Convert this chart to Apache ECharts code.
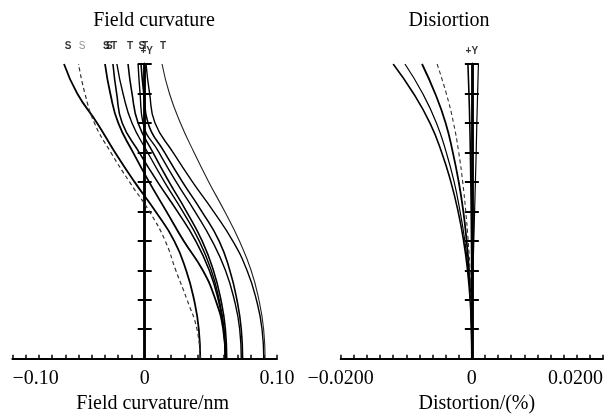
<!DOCTYPE html>
<html>
<head>
<meta charset="utf-8">
<script src="https://cdn.jsdelivr.net/npm/echarts@6/dist/echarts.min.js"></script>
<style>
html, body { margin: 0; padding: 0; background: #fff; }
#chart { width: 608px; height: 419px; }
</style>
</head>
<body>
<div id="chart"></div>
<script>
// relative field height (0 = axis, 1 = full field +Y)
const fields = [0, 0.1, 0.2, 0.3, 0.4, 0.5, 0.6, 0.7, 0.8, 0.9, 1.0]

// field curvature curves, value at each field
const fcA = [0.042, 0.0409, 0.0373, 0.0313, 0.0223, 0.0081, -0.0077, -0.0224, -0.036, -0.051, -0.061]
const fcB = [0.042, 0.0395, 0.032, 0.0235, 0.0155, 0.0035, -0.0115, -0.0256, -0.038, -0.0452, -0.050]
const fcC = [0.061, 0.0593, 0.0535, 0.0439, 0.0294, 0.0164, 0.0033, -0.0088, -0.020, -0.026, -0.030]
const fcD = [0.061, 0.0598, 0.0556, 0.0488, 0.0385, 0.0247, 0.0097, -0.0042, -0.017, -0.0212, -0.024]
const fcE = [0.061, 0.0599, 0.0563, 0.0503, 0.0412, 0.0287, 0.0149, 0.0022, -0.0096, -0.0164, -0.021]
const fcF = [0.062, 0.061, 0.0576, 0.0519, 0.0434, 0.0315, 0.0184, 0.0062, -0.005, -0.0096, -0.0126]
const fcG = [0.073, 0.0718, 0.0677, 0.061, 0.0509, 0.0379, 0.0238, 0.0108, -0.0013, -0.0035, -0.005]
const fcH = [0.074, 0.073, 0.0697, 0.0643, 0.0562, 0.0431, 0.0285, 0.015, 0.0025, -0.0007, -0.0028]
const fcJ = [0.090, 0.0887, 0.0844, 0.0773, 0.0665, 0.052, 0.0361, 0.0214, 0.0078, 0.0037, 0.001]
const fcI = [0.091, 0.0899, 0.0863, 0.0804, 0.0715, 0.0604, 0.0484, 0.0373, 0.027, 0.0187, 0.0131]

// distortion curves (%)
const dsR1 = [0, -0.00006, -0.00026, -0.00066, -0.00126, -0.0021, -0.0032, -0.0046, -0.0064, -0.0089, -0.012]
const dsR2 = [0, -0.00005, -0.00022, -0.00056, -0.00107, -0.0018, -0.0027, -0.0039, -0.0054, -0.0075, -0.0102]
const dsR3 = [0, -0.00004, -0.00017, -0.00042, -0.0008, -0.0013, -0.002, -0.0029, -0.004, -0.0056, -0.0076]
const dsR4 = [0, -0.00003, -0.00012, -0.00029, -0.00056, -0.00093, -0.0014, -0.002, -0.0028, -0.0039, -0.0053]
const dsR5 = [0, 0, -0.00001, -0.00003, -0.00006, -0.0001, -0.00016, -0.00023, -0.00032, -0.00044, -0.0006]
const dsR6 = [0, 0.00002, 0.00008, 0.00018, 0.0003, 0.00042, 0.00054, 0.00066, 0.00076, 0.00088, 0.001]

// S / T tags above the curve tops
const tagText = ['S', 'S', 'S', 'S', 'T', 'T', 'S', 'T', 'T']
const tagX = [-0.058, -0.0474, -0.029, -0.0267, -0.0232, -0.0111, -0.0022, 0.0003, 0.0138]
const tagLight = [false, true, false, false, false, false, false, false, false]

const serif = 'Liberation Serif'

function curve(xs, yIdx, xIdx, width, dashed, color) {
  return {
    type: 'line',
    xAxisIndex: xIdx,
    yAxisIndex: yIdx,
    data: fields.map((f, i) => [xs[i], f]),
    smooth: true,
    showSymbol: false,
    silent: true,
    lineStyle: { color: color || '#000', width: width, type: dashed ? [4, 3] : 'solid' },
  }
}

// vertical axis through x = 0, ticks crossing it on both sides (one axis per side)
function yAxisFor(grid, pos) {
  return {
    type: 'value', gridIndex: grid, position: pos, min: 0, max: 1, interval: 0.1,
    axisLine: { show: true, onZero: true, lineStyle: { color: '#000', width: 2.5 } },
    axisTick: { show: true, length: 7, lineStyle: { color: '#000', width: 2 } },
    axisLabel: { show: false },
    splitLine: { show: false },
  }
}

// invisible twin x axis so that the second y axis can also sit on zero
function hiddenX(grid, min, max) {
  return { type: 'value', gridIndex: grid, min: min, max: max, show: false,
    axisLine: { onZero: false }, splitLine: { show: false } }
}

const labelFont = { fontFamily: serif, fontSize: 20, color: '#000' }

const chart = echarts.init(document.getElementById('chart'))
chart.setOption({
  animation: false,
  backgroundColor: '#fff',
  title: [
    { text: 'Field curvature', left: 149, top: 6, textAlign: 'center',
      textStyle: { fontFamily: serif, fontSize: 20, fontWeight: 'normal', color: '#000' } },
    { text: 'Disiortion', left: 444, top: 6, textAlign: 'center',
      textStyle: { fontFamily: serif, fontSize: 20, fontWeight: 'normal', color: '#000' } },
  ],
  grid: [
    { left: 12.4, top: 64, width: 264.6, height: 294.7 },
    { left: 340.7, top: 64, width: 262.3, height: 294.7 },
  ],
  xAxis: [
    {
      type: 'value', gridIndex: 0, min: -0.1, max: 0.1, interval: 0.01,
      name: 'Field curvature/nm', nameLocation: 'middle', nameGap: 30,
      nameTextStyle: Object.assign({ padding: [0, 0, 0, 16] }, labelFont),
      axisLine: { lineStyle: { color: '#000', width: 2 } },
      axisTick: { inside: true, length: 4, lineStyle: { color: '#000', width: 1.5 } },
      axisLabel: Object.assign({
        margin: 10, alignMinLabel: 'left',
        formatter: v => Math.abs(v) < 1e-9 ? '0' : Math.abs(Math.abs(v) - 0.1) < 1e-9 ? (v < 0 ? '\u22120.10' : '0.10') : '',
      }, labelFont),
      splitLine: { show: false },
    },
    {
      type: 'value', gridIndex: 1, min: -0.02, max: 0.02, interval: 0.002,
      name: 'Distortion/(%)', nameLocation: 'middle', nameGap: 30,
      nameTextStyle: Object.assign({ padding: [0, 0, 0, 10] }, labelFont),
      axisLine: { lineStyle: { color: '#000', width: 2 } },
      axisTick: { inside: true, length: 4, lineStyle: { color: '#000', width: 1.5 } },
      axisLabel: Object.assign({
        margin: 10, alignMaxLabel: 'right',
        formatter: v => Math.abs(v) < 1e-9 ? '0' : Math.abs(Math.abs(v) - 0.02) < 1e-9 ? (v < 0 ? '\u22120.0200' : '0.0200') : '',
      }, labelFont),
      splitLine: { show: false },
    },
    hiddenX(0, -0.1, 0.1),
    hiddenX(1, -0.02, 0.02),
  ],
  yAxis: [yAxisFor(0, 'left'), yAxisFor(0, 'right'), yAxisFor(1, 'left'), yAxisFor(1, 'right')],
  series: [
    curve(fcA, 0, 0, 1.8),
    curve(fcB, 0, 0, 1.2, true, '#333'),
    curve(fcC, 0, 0, 1.8),
    curve(fcD, 0, 0, 1.6),
    curve(fcE, 0, 0, 1.4),
    curve(fcF, 0, 0, 1.6),
    curve(fcG, 0, 0, 1.4),
    curve(fcH, 0, 0, 1.6),
    curve(fcJ, 0, 0, 1.4),
    curve(fcI, 0, 0, 1.1, false, '#222'),
    curve(dsR1, 2, 1, 1.6),
    curve(dsR2, 2, 1, 1.2),
    curve(dsR3, 2, 1, 1.8),
    curve(dsR4, 2, 1, 1.1, true, '#333'),
    curve(dsR5, 2, 1, 1.6),
    curve(dsR6, 2, 1, 1.2),
    {
      type: 'scatter', xAxisIndex: 0, yAxisIndex: 0, silent: true,
      symbolSize: 1, itemStyle: { color: 'transparent' },
      data: tagX.map((x, i) => ({
        value: [x, 1],
        label: {
          show: true, position: 'top', distance: 12, formatter: tagText[i],
          fontFamily: 'Liberation Sans', fontSize: 10,
          fontWeight: tagLight[i] ? 'normal' : 'bold',
          color: tagLight[i] ? '#777' : '#000',
        },
      })),
    },
    {
      type: 'scatter', xAxisIndex: 0, yAxisIndex: 0, silent: true,
      symbolSize: 1, itemStyle: { color: 'transparent' },
      data: [[0.0015, 1]],
      label: { show: true, position: 'top', distance: 7, formatter: '+Y',
        fontFamily: 'Liberation Sans', fontSize: 10, fontWeight: 'bold', color: '#000' },
    },
    {
      type: 'scatter', xAxisIndex: 1, yAxisIndex: 2, silent: true,
      symbolSize: 1, itemStyle: { color: 'transparent' },
      data: [[0, 1]],
      label: { show: true, position: 'top', distance: 7, formatter: '+Y',
        fontFamily: 'Liberation Sans', fontSize: 10, fontWeight: 'bold', color: '#000' },
    },
  ],
})
</script>
</body>
</html>
